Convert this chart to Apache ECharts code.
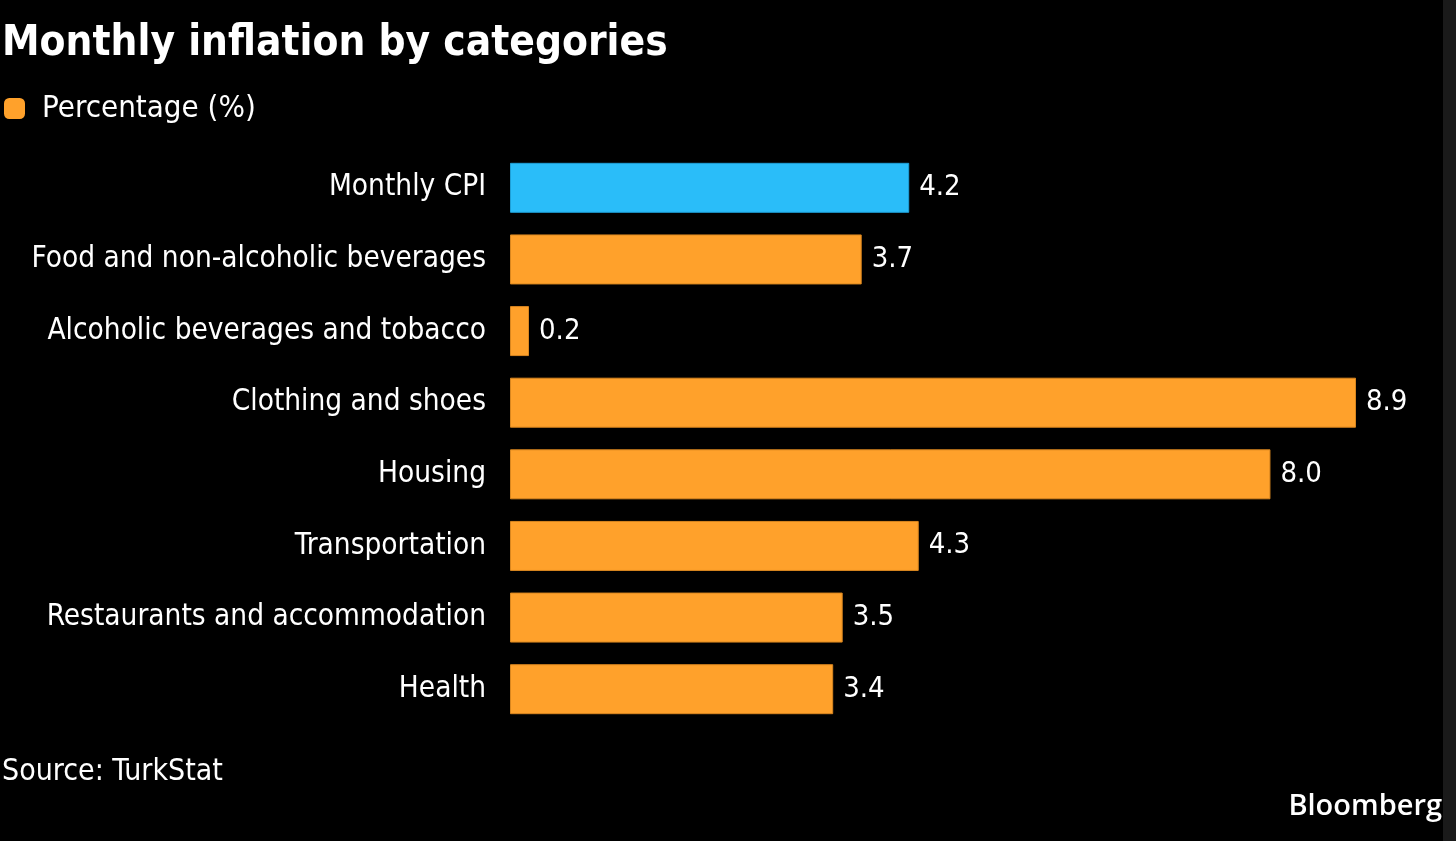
<!DOCTYPE html>
<html lang="en">
<head>
    <meta charset="utf-8">
    <title>Monthly inflation by categories</title>
    <script src="https://cdn.jsdelivr.net/npm/echarts@6/dist/echarts.min.js"></script>
    <style>
        html, body {
            margin: 0;
            padding: 0;
            background: #000;
        }
        #main {
            width: 1456px;
            height: 841px;
        }
    </style>
</head>
<body>
<div id="main"></div>
<script type="text/javascript">
    // chart data
    var categories = [
        'Monthly CPI',
        'Food and non-alcoholic beverages',
        'Alcoholic beverages and tobacco',
        'Clothing and shoes',
        'Housing',
        'Transportation',
        'Restaurants and accommodation',
        'Health'
    ];
    var values = [4.2, 3.7, 0.2, 8.9, 8.0, 4.3, 3.5, 3.4];
    var seriesName = 'Percentage (%)';

    var ORANGE = '#ffa12b';
    var BLUE = '#2abdf9';
    var FONT = '"DejaVu Sans Condensed", "DejaVu Sans", sans-serif';

    var chart = echarts.init(document.getElementById('main'), null, {renderer: 'canvas'});

    // first bar (headline CPI) is blue, the rest orange
    var barData = values.map(function (v, i) {
        return {
            value: v,
            itemStyle: {
                color: i === 0 ? BLUE : ORANGE,
                borderColor: i === 0 ? '#1f9fd6' : '#d9861f',
                borderWidth: 1
            }
        };
    });

    var option = {
        backgroundColor: '#000',
        animation: false,
        title: {
            text: 'Monthly inflation by categories',
            left: 0,
            top: 18,
            padding: [5, 2],
            textStyle: {
                color: '#fff',
                fontFamily: FONT,
                fontWeight: 'bold',
                fontSize: 42
            }
        },
        legend: {
            left: 4,
            top: 93,
            padding: 0,
            icon: 'roundRect',
            itemWidth: 21,
            itemHeight: 21,
            itemGap: 10,
            data: [{name: seriesName, itemStyle: {color: ORANGE}}],
            textStyle: {
                color: '#fff',
                fontFamily: FONT,
                fontSize: 31,
                padding: [0, 0, 0, 12]
            }
        },
        grid: {
            left: 510,
            top: 152,
            width: 855.5,
            height: 573
        },
        xAxis: {
            type: 'value',
            min: 0,
            max: 9,
            show: false
        },
        yAxis: {
            type: 'category',
            data: categories,
            inverse: true,
            axisLine: {show: false},
            axisTick: {show: false},
            axisLabel: {
                color: '#fff',
                fontFamily: FONT,
                fontSize: 29.5,
                margin: 24
            }
        },
        series: [
            {
                name: seriesName,
                type: 'bar',
                data: barData,
                barWidth: 50,
                itemStyle: {color: ORANGE},
                label: {
                    show: true,
                    position: 'right',
                    distance: 10,
                    color: '#fff',
                    fontFamily: FONT,
                    fontSize: 29,
                    formatter: function (p) {
                        return p.value.toFixed(1);
                    }
                }
            }
        ],
        graphic: [
            {
                type: 'text',
                left: 2,
                top: 757,
                style: {
                    text: 'Source: TurkStat',
                    fill: '#fff',
                    font: '30px ' + FONT
                }
            },
            {
                type: 'text',
                right: 14,
                top: 792,
                style: {
                    text: 'Bloomberg',
                    fill: '#fff',
                    font: '600 29px "Open Sans", sans-serif'
                }
            },
            {
                // dark strip on the right edge of the original screenshot
                type: 'rect',
                right: 0,
                top: 0,
                shape: {width: 13, height: 841},
                style: {fill: '#1a1a1a'}
            }
        ]
    };

    chart.setOption(option);
    window.addEventListener('resize', chart.resize);
</script>
</body>
</html>
